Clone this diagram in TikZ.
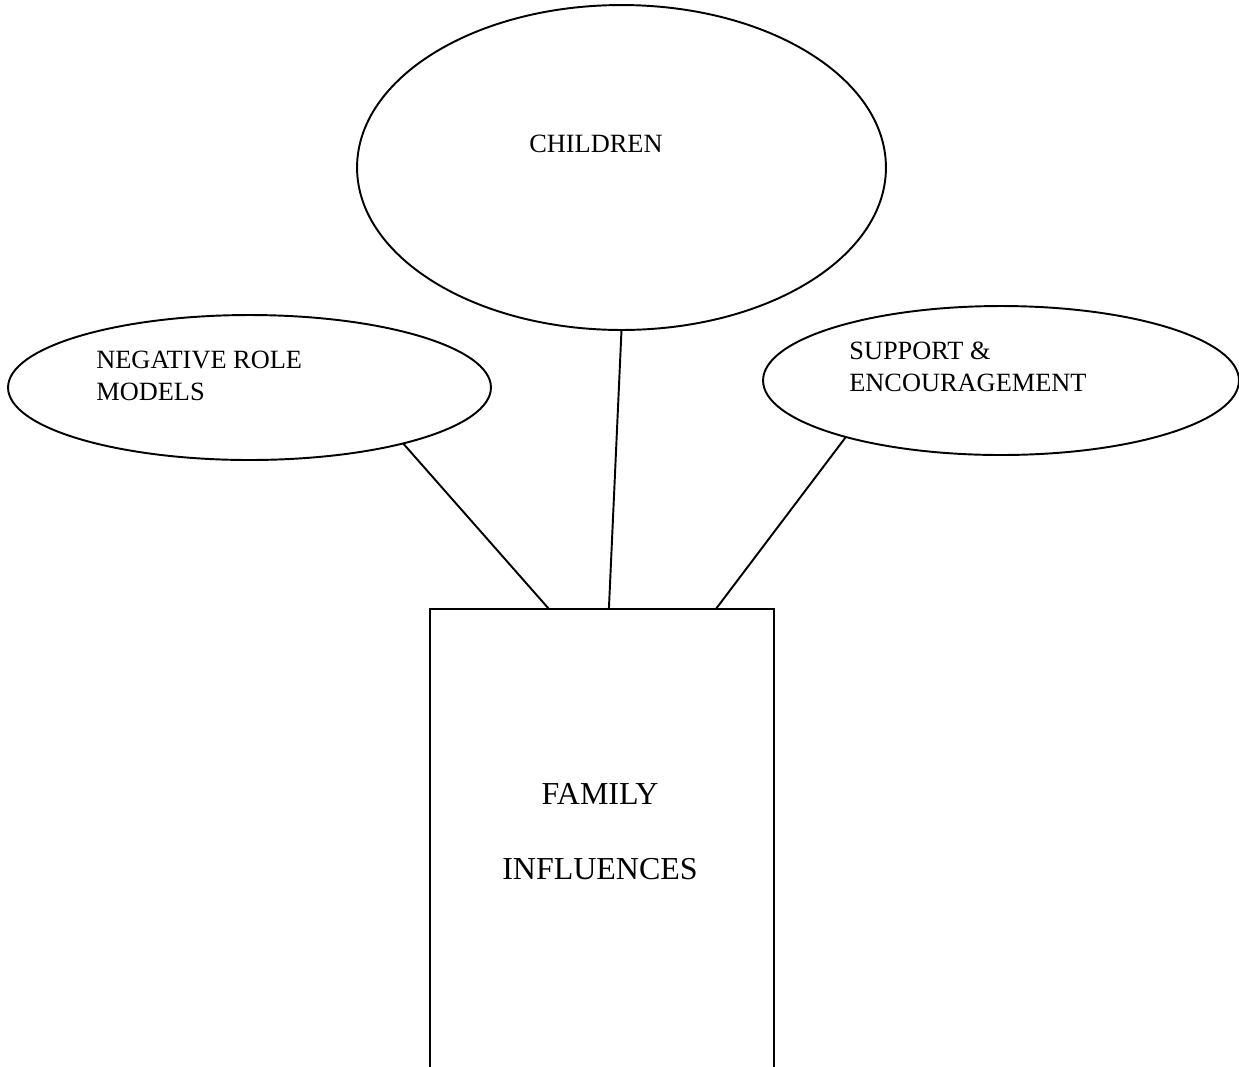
\documentclass[tikz,border=0pt]{standalone}
\usepackage{fontspec}
\setmainfont{Liberation Serif}
\usepackage{tikz}
\usetikzlibrary{shapes.geometric, calc}

\begin{document}
\begin{tikzpicture}[
    x=0.02cm, y=-0.02cm,
    % ellipses and box share one outline
    outline/.style={draw=black, line width=1.1pt, inner sep=0pt, outer sep=0pt},
    bubble/.style={outline, ellipse},
    box/.style={outline, rectangle},
    % link lines
    link/.style={draw=black, line width=1.1pt},
    % small labels and the big box label
    txt/.style={font=\fontsize{15}{18}\selectfont, anchor=base west, inner sep=0pt},
    bigtxt/.style={font=\fontsize{18.2}{22}\selectfont, anchor=base, inner sep=0pt}
]
    \clip (0,0) rectangle (1239,1066);

    % --- BUBBLES ---
    \node[bubble, minimum width=10.58cm, minimum height=6.5cm] (child) at (621.5,167.5) {};
    \node[bubble, minimum width=9.66cm, minimum height=2.9cm] (nrm) at (249.5,387.5) {};
    \node[bubble, minimum width=9.52cm, minimum height=2.98cm] (supp) at (1001,380.5) {};

    \node[txt] (childtxt) at (529,152) {CHILDREN};
    \node[txt] (nrmtxt1) at (96,368) {NEGATIVE ROLE};
    \node[txt] (nrmtxt2) at (96,400) {MODELS};
    \node[txt] (supptxt1) at (849,359) {SUPPORT \&};
    \node[txt] (supptxt2) at (849,391) {ENCOURAGEMENT};

    % --- BOX ---
    \node[box, minimum width=6.88cm, minimum height=9.5cm] (fam) at (602,846.5) {};
    \node[bigtxt] (famtxt1) at (600,804) {FAMILY};
    \node[bigtxt] (famtxt2) at (600,879) {INFLUENCES};

    % --- LINKS ---
    \draw[link] (nrm.-20) -- ($(fam.north west)!0.346!(fam.north east)$);
    \draw[link] (child.south) -- ($(fam.north west)!0.52!(fam.north east)$);
    \draw[link] (supp.200) -- ($(fam.north west)!0.831!(fam.north east)$);

\end{tikzpicture}
\end{document}
